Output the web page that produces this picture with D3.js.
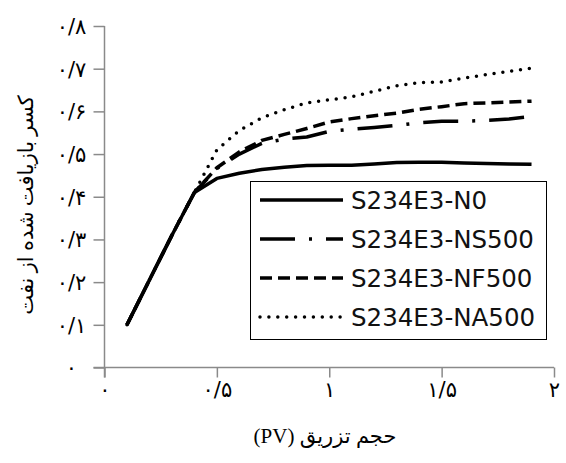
<!DOCTYPE html>
<html>
<head>
<meta charset="utf-8">
<script src="https://cdn.jsdelivr.net/npm/d3@7"></script>
<style>
  html, body { margin: 0; padding: 0; background: #fff; }
  svg { display: block; }
  .tick-label { font-family: "DejaVu Sans", sans-serif; font-size: 21px; fill: #000; }
  .axis-title { font-family: "Liberation Serif", "DejaVu Sans", serif; font-size: 21px; fill: #000; }
  .legend text { font-family: "DejaVu Sans", sans-serif; font-size: 24.5px; fill: #111; }
</style>
</head>
<body>
<svg width="566" height="463"></svg>
<script>
// حجم تزریق (PV)
var pv = [0.1, 0.2, 0.3, 0.4, 0.5, 0.6, 0.7, 0.8, 0.9, 1.0, 1.1, 1.2, 1.3, 1.4, 1.5, 1.6, 1.7, 1.8, 1.9];

// کسر بازیافت شده از نفت
var recN0    = [0.10, 0.205, 0.31, 0.41, 0.443, 0.455, 0.464, 0.469, 0.473, 0.474, 0.474, 0.477, 0.480, 0.481, 0.481, 0.479, 0.478, 0.477, 0.476];
var recNS500 = [0.10, 0.205, 0.31, 0.41, 0.466, 0.500, 0.525, 0.535, 0.540, 0.553, 0.558, 0.562, 0.567, 0.573, 0.577, 0.577, 0.579, 0.582, 0.588];
var recNF500 = [0.10, 0.205, 0.31, 0.41, 0.468, 0.505, 0.532, 0.546, 0.560, 0.575, 0.583, 0.590, 0.596, 0.605, 0.611, 0.618, 0.620, 0.622, 0.624];
var recNA500 = [0.10, 0.205, 0.31, 0.41, 0.510, 0.555, 0.585, 0.604, 0.620, 0.627, 0.634, 0.647, 0.660, 0.667, 0.669, 0.678, 0.686, 0.694, 0.701];

var seriesNames = ["S234E3-N0", "S234E3-NS500", "S234E3-NF500", "S234E3-NA500"];

var xTicks = [0, 0.5, 1, 1.5, 2];
var xTickLabels = ["۰", "۰/۵", "۱", "۱/۵", "۲"];
var yTicks = [0, 0.1, 0.2, 0.3, 0.4, 0.5, 0.6, 0.7, 0.8];
var yTickLabels = ["۰", "۰/۱", "۰/۲", "۰/۳", "۰/۴", "۰/۵", "۰/۶", "۰/۷", "۰/۸"];

;(function(){

    var svg = d3.select("svg");
    var AXIS_COLOR = "#8a8a8a";

    var x = d3.scaleLinear().domain([0, 2]).range([104.5, 554]);
    var y = d3.scaleLinear().domain([0, 0.8]).range([367.5, 26]);

    // سبک خط هر سری
    var styles = [
        {dash: null,          cap: "butt"},
        {dash: "35,14,3,14",  cap: "butt"},
        {dash: "12,6",        cap: "butt"},
        {dash: "0,8.9",       cap: "round"}
    ];

    var allSeries = [recN0, recNS500, recNF500, recNA500];

    // محور y
    var yAxis = d3.axisLeft(y)
        .tickValues(yTicks)
        .tickSizeInner(11)
        .tickSizeOuter(0)
        .tickFormat(function(d, i){ return yTickLabels[i]; });

    var gy = svg.append("g")
        .attr("transform", "translate(" + x(0) + ",0)")
        .call(yAxis);
    gy.select(".domain").remove();
    gy.selectAll(".tick line").attr("stroke", AXIS_COLOR).attr("stroke-width", 1.5);
    gy.selectAll(".tick text")
        .attr("class", "tick-label")
        .attr("x", -33)
        .attr("dy", "0.35em")
        .attr("text-anchor", "middle")
        .attr("font-family", null).attr("font-size", null);

    // محور x
    var xAxis = d3.axisBottom(x)
        .tickValues(xTicks)
        .tickSizeInner(10)
        .tickSizeOuter(0)
        .tickPadding(5)
        .tickFormat(function(d, i){ return xTickLabels[i]; });

    var gx = svg.append("g")
        .attr("transform", "translate(0," + y(0) + ")")
        .call(xAxis);
    gx.select(".domain").remove();
    gx.selectAll(".tick line").attr("stroke", AXIS_COLOR).attr("stroke-width", 1.5);
    gx.selectAll(".tick text")
        .attr("class", "tick-label")
        .attr("font-family", null).attr("font-size", null);

    // axis lines (cross like excel)
    svg.append("line")
        .attr("x1", x(0)).attr("x2", x(0))
        .attr("y1", y(0.8)).attr("y2", y(0) + 10)
        .attr("stroke", AXIS_COLOR).attr("stroke-width", 1.5);
    svg.append("line")
        .attr("x1", x(0) - 11).attr("x2", x(2))
        .attr("y1", y(0)).attr("y2", y(0))
        .attr("stroke", AXIS_COLOR).attr("stroke-width", 1.5);

    var line = d3.line()
        .x(function(d){ return x(d[0]); })
        .y(function(d){ return y(d[1]); });

    allSeries.forEach(function(vals, i){
        svg.append("path")
            .datum(d3.zip(pv, vals))
            .attr("fill", "none")
            .attr("stroke", "#000")
            .attr("stroke-width", 3.5)
            .attr("stroke-linejoin", "round")
            .attr("stroke-linecap", styles[i].cap)
            .attr("stroke-dasharray", styles[i].dash)
            .attr("d", line);
    });

    // legend
    var legend = svg.append("g").attr("class", "legend");
    legend.append("rect")
        .attr("x", 250.5).attr("y", 181.5)
        .attr("width", 296).attr("height", 158)
        .attr("fill", "#fff")
        .attr("stroke", "#000")
        .attr("stroke-width", 1);

    seriesNames.forEach(function(name, i){
        var ly = 200 + i * 39;
        legend.append("line")
            .attr("x1", 260).attr("x2", 343)
            .attr("y1", ly).attr("y2", ly)
            .attr("stroke", "#000")
            .attr("stroke-width", 3.5)
            .attr("stroke-linecap", styles[i].cap)
            .attr("stroke-dasharray", styles[i].dash);
        legend.append("text")
            .attr("x", 351)
            .attr("y", ly)
            .attr("dy", "0.35em")
            .text(name);
    });

    // عنوان محورها
    svg.append("text")
        .attr("class", "axis-title")
        .attr("x", 325).attr("y", 443)
        .attr("text-anchor", "middle")
        .attr("direction", "rtl")
        .style("direction", "rtl")
        .style("unicode-bidi", "embed")
        .text("حجم تزریق (PV)");

    svg.append("text")
        .attr("class", "axis-title")
        .attr("transform", "translate(33,205) rotate(-90)")
        .attr("text-anchor", "middle")
        .attr("direction", "rtl")
        .text("کسر بازیافت شده از نفت");

}());
</script>
</body>
</html>
